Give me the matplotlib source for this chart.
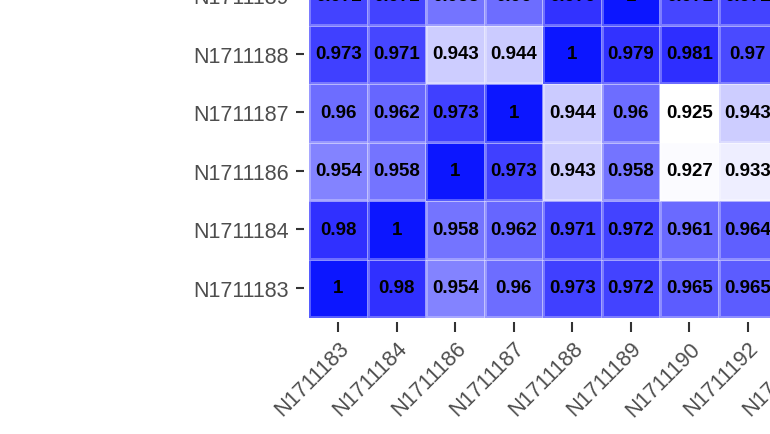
import numpy as np
import matplotlib
matplotlib.use("Agg")
import matplotlib.pyplot as plt
from matplotlib.colors import LinearSegmentedColormap, Normalize

# samples, bottom row first (the top of the full heatmap is cropped off)
row_labels = ["N1711183", "N1711184", "N1711186", "N1711187", "N1711188", "N1711189"]
col_labels = ["N1711183", "N1711184", "N1711186", "N1711187", "N1711188",
              "N1711189", "N1711190", "N1711192", "N1711193"]

r183 = [1, 0.98, 0.954, 0.96, 0.973, 0.972, 0.965, 0.965]
r184 = [0.98, 1, 0.958, 0.962, 0.971, 0.972, 0.961, 0.964]
r186 = [0.954, 0.958, 1, 0.973, 0.943, 0.958, 0.927, 0.933]
r187 = [0.96, 0.962, 0.973, 1, 0.944, 0.96, 0.925, 0.943]
r188 = [0.973, 0.971, 0.943, 0.944, 1, 0.979, 0.981, 0.97]
r189 = [0.972, 0.972, 0.958, 0.96, 0.979, 1, 0.971, 0.972]

vals = np.full((len(row_labels), len(col_labels)), np.nan)
for i, r in enumerate([r183, r184, r186, r187, r188, r189]):
    vals[i, :len(r)] = r

# white -> blue gradient, stops
vmin, vmax = 0.925, 1.0
stops = [(0.925, (255, 255, 255)), (0.933, (238, 238, 255)), (0.944, (202, 202, 255)),
         (0.954, (130, 130, 255)), (0.962, (102, 102, 255)), (0.973, (64, 64, 255)),
         (0.98, (48, 48, 255)), (1.0, (12, 22, 255))]
cmap = LinearSegmentedColormap.from_list(
    "wb", [((v - vmin) / (vmax - vmin), tuple(c / 255 for c in rgb)) for v, rgb in stops])

W, H, DPI = 770, 435, 100
cell = 58.5   # px
gap = 0.09    # cell units between panel and ticks
x0, ybot = 309, 318  # px of heatmap lower-left corner

fig = plt.figure(figsize=(W / DPI, H / DPI), dpi=DPI)
nx, ny = len(col_labels), len(row_labels)
ax_left = x0 - gap * cell
ax_w = (nx + gap) * cell
ax_bot = ybot + gap * cell
ax_h = (ny + gap) * cell
ax = fig.add_axes([ax_left / W, 1 - ax_bot / H, ax_w / W, ax_h / H])

X, Y = np.meshgrid(np.arange(nx + 1) - 0.5, np.arange(ny + 1) - 0.5)
ax.pcolormesh(X, Y, np.ma.masked_invalid(vals), cmap=cmap, norm=Normalize(vmin, vmax),
              edgecolors=(1, 1, 1, 0.3), linewidth=0.8)

for i in range(ny):
    for j in range(nx):
        v = vals[i, j]
        if np.isnan(v):
            continue
        ax.text(j, i, f"{v:g}", ha="center", va="center", fontsize=13.5,
                fontweight="bold", family="Liberation Sans", color="black")

ax.set_xlim(-0.5 - gap, nx - 0.5)
ax.set_ylim(-0.5 - gap, ny - 0.5)
for s in ax.spines.values():
    s.set_visible(False)

ax.set_xticks(range(nx))
ax.set_yticks(range(ny))
ax.set_xticklabels(col_labels, rotation=45, ha="right", va="top", rotation_mode="anchor")
ax.set_yticklabels(row_labels)
ax.tick_params(axis="both", length=7, width=1.5, color="#333333", labelcolor="#4D4D4D",
               labelsize=15.5)
ax.tick_params(axis="y", pad=5, length=6)
ax.tick_params(axis="x", pad=4)
for t in ax.get_xticklabels() + ax.get_yticklabels():
    t.set_family("Liberation Sans")

fig.savefig("out.png", dpi=DPI)
